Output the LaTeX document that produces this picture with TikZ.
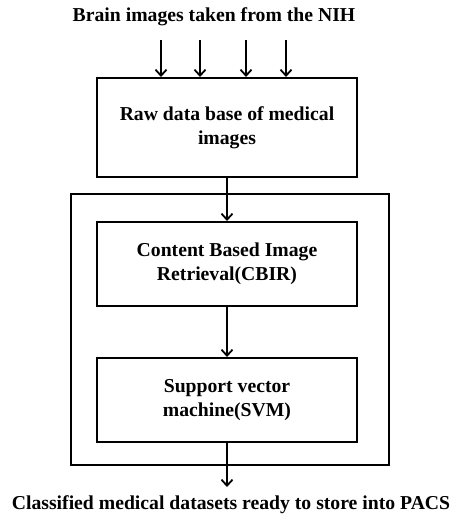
\documentclass[tikz,border=0pt]{standalone}
\usepackage{fontspec}
\setmainfont{Liberation Serif}
\usetikzlibrary{arrows.meta}
\begin{document}
\begin{tikzpicture}[x=1pt,y=-1pt,
  line width=2pt,
  every node/.style={font=\bfseries\fontsize{19.7}{24}\selectfont, align=center, inner sep=0pt},
  stage/.style={draw, minimum width=260pt, minimum height=84pt},
  flow/.style={-{Straight Barb[length=6pt,width=11pt,line width=1.8pt]}}]
\useasboundingbox (0,0) rectangle (453,516);
% source label and incoming arrows
\node (src) at (214,17) {Brain images taken from the NIH};
\node[stage, minimum height=99pt] (raw) at (227,127.5) {Raw data base of medical\\images};
\foreach \x/\n in {161/a,200/b,246/c,286/d}{
  \coordinate (in\n) at (\x,40);
  \draw[flow] (in\n) -- (in\n |- raw.north);
}
% enclosing processing block
\node[draw, minimum width=318pt, minimum height=271pt] (block) at (230,329.5) {};
\node[stage] (cbir) at (227,264) {Content Based Image\\Retrieval(CBIR)};
\node[stage] (svm) at (227,400) {Support vector\\machine(SVM)};
\draw[flow] (raw.south) -- (cbir.north);
\draw[flow] (cbir.south) -- (svm.north);
\coordinate (outend) at (227,487);
\draw[flow] (svm.south) -- (outend);
\node (dst) at (231,505) {Classified medical datasets ready to store into PACS};
\end{tikzpicture}
\end{document}
